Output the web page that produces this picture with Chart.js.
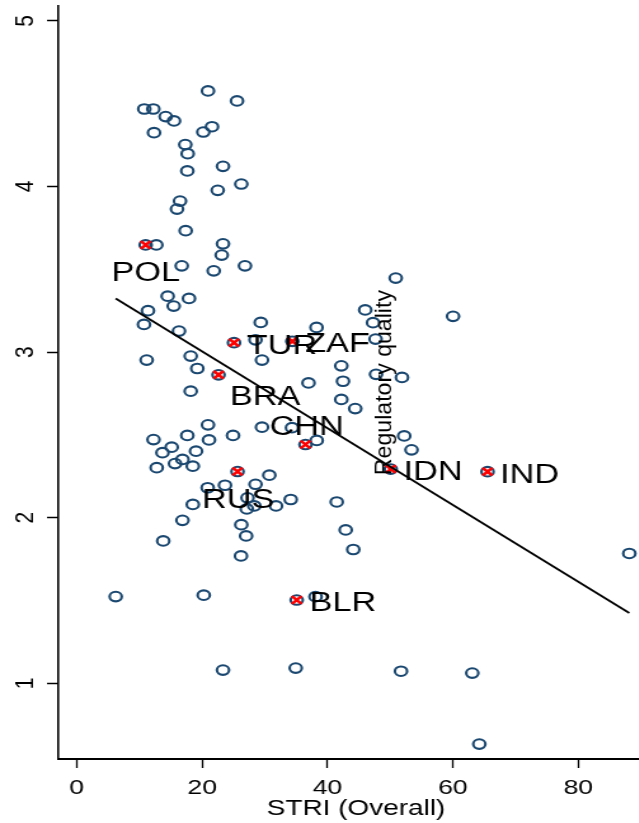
<!DOCTYPE html>
<html>
<head>
<meta charset="utf-8">
<script src="https://cdn.jsdelivr.net/npm/chart.js@4.4.1/dist/chart.umd.min.js"></script>
<style>
  html, body { margin: 0; padding: 0; background: #fff; overflow: hidden; width: 639px; height: 823px; }
  /* the graph is laid out on a narrower canvas and widened horizontally */
  #wrap { position: absolute; left: 0; top: 0; width: 515px; height: 823px;
          transform: scaleX(1.27); transform-origin: 0 0; }
</style>
</head>
<body>
<div id="wrap"><canvas id="c"></canvas></div>
<script>
// STRI (overall) against regulatory quality, one pair per economy
const striX = [
  20.94, 25.57, 10.78, 12.22, 14.19, 15.52, 12.33, 20.19, 21.58, 17.32,
  17.70, 17.64, 23.33, 26.25, 22.49, 16.48, 16.00, 17.38, 12.70, 23.33,
  23.13, 16.75, 21.85, 26.84, 14.51, 15.47, 17.91, 11.37, 10.73, 16.32,
  29.35, 28.52, 11.16, 18.18, 29.55, 19.23, 18.18, 36.97, 38.25, 20.94,
  29.55, 34.34, 12.25, 17.64, 21.10, 24.93, 15.15, 13.68, 19.03, 16.87,
  15.68, 12.76, 18.52, 38.28, 30.72, 20.89, 23.65, 28.52, 27.24, 28.33,
  27.13, 18.52, 31.79, 34.13, 16.87, 26.25, 27.02, 13.80, 26.20, 6.22,
  20.26, 38.09, 23.33, 34.93, 50.88, 46.01, 60.02, 47.26, 47.66, 42.20,
  42.47, 47.74, 51.88, 42.20, 44.42, 52.23, 53.40, 41.47, 42.90, 44.11,
  88.13, 51.72, 63.09, 64.21
];
const regQ = [
  4.577, 4.517, 4.468, 4.468, 4.422, 4.396, 4.325, 4.329, 4.361, 4.253,
  4.198, 4.094, 4.122, 4.015, 3.977, 3.912, 3.864, 3.733, 3.647, 3.654,
  3.586, 3.521, 3.491, 3.521, 3.338, 3.278, 3.324, 3.250, 3.167, 3.127,
  3.179, 3.074, 2.952, 2.976, 2.952, 2.901, 2.764, 2.814, 3.149, 2.561,
  2.547, 2.544, 2.472, 2.497, 2.470, 2.497, 2.426, 2.393, 2.402, 2.352,
  2.327, 2.302, 2.311, 2.467, 2.257, 2.181, 2.196, 2.202, 2.120, 2.071,
  2.053, 2.080, 2.071, 2.110, 1.984, 1.958, 1.890, 1.860, 1.769, 1.524,
  1.532, 1.523, 1.080, 1.092, 3.447, 3.255, 3.216, 3.178, 3.079, 2.917,
  2.824, 2.866, 2.847, 2.714, 2.659, 2.494, 2.410, 2.095, 1.926, 1.808,
  1.784, 1.073, 1.062, 0.633
];

// highlighted economies
const hlCodes = ['POL', 'TUR', 'ZAF', 'BRA', 'CHN', 'RUS', 'IDN', 'IND', 'BLR'];
const hlX = [11.00, 25.09, 34.39, 22.62, 36.49, 25.65, 50.08, 65.52, 35.09];
const hlY = [3.647, 3.057, 3.065, 2.863, 2.442, 2.279, 2.294, 2.278, 1.503];

// fitted line end points
const fitX = [6.22, 88.13];
const fitY = [3.324, 1.425];

// axis ticks
const xTicks = [0, 20, 40, 60, 80];
const yTicks = [1, 2, 3, 4, 5];

const FONT = '"Liberation Sans", Arial, Helvetica, sans-serif';
const NAVY = '#1a476f';

// where each code label sits relative to its marker: [align, dx, baseline dy]
const labelPlace = {
  POL: ['center', 0, 36],
  TUR: ['left', 10, 11],
  ZAF: ['left', 10, 11],
  BRA: ['left', 9, 30],
  CHN: ['center', 1, -9.5],
  RUS: ['center', 0.5, 36],
  IDN: ['left', 10, 11],
  IND: ['left', 10, 11],
  BLR: ['left', 10, 11]
};

const pts = (xs, ys) => xs.map((x, i) => ({ x: x, y: ys[i] }));

const annotate = {
  id: 'annotate',
  afterDatasetsDraw(chart, args, opts) {
    const { ctx, scales: { x, y } } = chart;
    ctx.save();
    ctx.fillStyle = '#000';
    ctx.font = '27px ' + FONT;
    ctx.textBaseline = 'alphabetic';
    hlCodes.forEach((code, i) => {
      const p = labelPlace[code];
      ctx.textAlign = p[0];
      ctx.fillText(code, x.getPixelForValue(hlX[i]) + p[1], y.getPixelForValue(hlY[i]) + p[2]);
    });
    ctx.restore();

    // vertical title, set inside the plot
    ctx.save();
    ctx.translate(x.getPixelForValue(opts.titleAt.x), y.getPixelForValue(opts.titleAt.y));
    ctx.rotate(-Math.PI / 2);
    ctx.scale(1.285, 1);
    ctx.fillStyle = '#000';
    ctx.font = '18px ' + FONT;
    ctx.textAlign = 'center';
    ctx.textBaseline = 'alphabetic';
    ctx.fillText(opts.title, 0, 0);
    ctx.restore();
  }
};

new Chart(document.getElementById('c'), {
  type: 'scatter',
  data: {
    datasets: [
      {
        data: pts(striX, regQ).concat(pts(hlX, hlY)),
        pointStyle: 'circle',
        pointRadius: 4.8,
        pointBorderWidth: 2.1,
        pointBorderColor: NAVY,
        pointBackgroundColor: 'rgba(0,0,0,0)',
        order: 3
      },
      {
        data: pts(hlX, hlY),
        pointStyle: 'crossRot',
        pointRadius: 5.4,
        pointBorderWidth: 2.6,
        pointBorderColor: '#ff0000',
        order: 2
      },
      {
        data: pts(fitX, fitY),
        showLine: true,
        borderColor: '#000',
        borderWidth: 1.8,
        pointRadius: 0,
        fill: false,
        order: 1
      }
    ]
  },
  options: {
    responsive: true,
    maintainAspectRatio: false,
    animation: false,
    devicePixelRatio: 1,
    events: [],
    layout: { autoPadding: false, padding: { top: 6, right: 0, bottom: 0, left: 0 } },
    plugins: {
      legend: { display: false },
      tooltip: { enabled: false },
      annotate: { title: 'Regulatory quality', titleAt: { x: 50.13, y: 2.816 } }
    },
    scales: {
      x: {
        type: 'linear',
        min: -2.98,
        max: 92.08,
        afterBuildTicks: s => { s.ticks = xTicks.map(v => ({ value: v })); },
        afterFit: s => { s.height = 64; s.paddingLeft = 0; s.paddingRight = 0; },
        grid: { drawOnChartArea: false, drawTicks: true, tickLength: 9, tickColor: '#000', tickWidth: 1.3 },
        border: { display: true, color: '#000', width: 2 },
        ticks: { color: '#000', font: { family: FONT, size: 21 }, padding: 8, minRotation: 0, maxRotation: 0 },
        title: { display: true, text: 'STRI (Overall)', color: '#000',
                 font: { family: FONT, size: 22 }, padding: { top: 0, bottom: 1.3 } }
      },
      y: {
        type: 'linear',
        min: 0.543,
        max: 5.09,
        afterBuildTicks: s => { s.ticks = yTicks.map(v => ({ value: v })); },
        afterFit: s => { s.width = 45.67; s.paddingTop = 0; s.paddingBottom = 0; },
        grid: { drawOnChartArea: false, drawTicks: true, tickLength: 8.7, tickColor: '#000', tickWidth: 1.5 },
        border: { display: true, color: '#000', width: 1.6 },
        ticks: { color: '#000', font: { family: FONT, size: 21 }, padding: 11,
                 minRotation: 90, maxRotation: 90, crossAlign: 'center' },
        title: { display: false }
      }
    }
  },
  plugins: [annotate]
});
</script>
</body>
</html>
